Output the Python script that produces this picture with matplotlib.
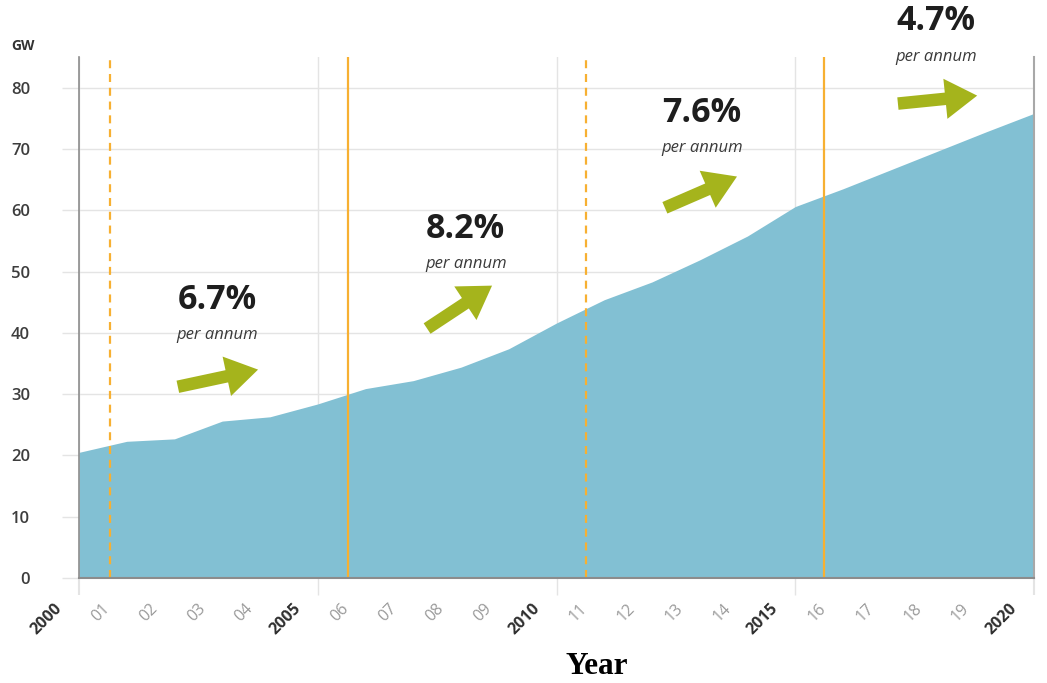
import matplotlib
matplotlib.use("Agg")
import matplotlib.pyplot as plt
import matplotlib.transforms as mtransforms
from matplotlib.ticker import FixedLocator, FuncFormatter

# Installed generating capacity, GW
years = list(range(2000, 2021))
capacity = [20.5, 22.3, 22.7, 25.6, 26.3, 28.4, 30.9, 32.2, 34.4, 37.4, 41.6,
            45.4, 48.3, 51.9, 55.8, 60.6, 63.5, 66.6, 69.7, 72.8, 75.8]

# Period boundaries (dashed = plan start, solid = plan end) and growth rates
boundary_dashed = [2000.65, 2010.62]
boundary_solid = [2005.63, 2015.6]
growth_labels = ["6.7%", "8.2%", "7.6%", "4.7%"]
growth_text_x = [2002.89, 2008.10, 2013.05, 2017.95]
growth_text_y = [45.4, 57.0, 75.9, 90.8]
arrow_tails = [(2002.07, 31.2), (2007.29, 40.7), (2012.27, 60.4), (2017.15, 77.4)]
arrow_tips = [(2003.75, 34.0), (2008.65, 47.7), (2013.78, 65.5), (2018.81, 78.7)]

y_ticks = list(range(0, 81, 10))
major_years = [2000, 2005, 2010, 2015, 2020]
minor_years = [y for y in years if y not in major_years]

AREA = "#82C0D3"
ORANGE = "#F7B032"
GREEN = "#A5B41C"
GRID = "#E4E4E4"
DARK = "#2E2E2E"

plt.rcParams["font.family"] = ["Open Sans", "DejaVu Sans"]

W, H = 1047, 683
fig = plt.figure(figsize=(W / 100, H / 100), dpi=100)
ax = fig.add_axes([79 / W, 1 - 578 / H, (1034 - 79) / W, (578 - 57) / H])
ax.set_xlim(2000, 2020)
ax.set_ylim(0, 85)
ax.set_axisbelow(True)

# Area
ax.fill_between(years, capacity, 0, color=AREA, lw=0, zorder=2)

# Period boundaries
for x in boundary_dashed:
    ax.axvline(x, color=ORANGE, lw=1.6, ls=(0, (3.6, 2.6)), zorder=3)
for x in boundary_solid:
    ax.axvline(x, color=ORANGE, lw=1.6, zorder=3)

# Growth annotations
for lab, tx, ty, tail, tip in zip(growth_labels, growth_text_x, growth_text_y,
                                  arrow_tails, arrow_tips):
    ax.text(tx, ty, lab, ha="center", va="center", fontsize=24.5,
            fontweight="bold", color="#1E1E1E", clip_on=False)
    ax.text(tx, ty - 5.8, "per annum", ha="center", va="center", fontsize=12,
            style="italic", color="#3A3A3A", clip_on=False)
    ax.annotate("", xy=tip, xytext=tail, annotation_clip=False,
                arrowprops=dict(arrowstyle="simple,head_length=2.3,head_width=2.9,tail_width=0.9",
                                mutation_scale=10, color=GREEN, lw=0,
                                shrinkA=0, shrinkB=0), zorder=4)

# Spines
ax.spines["top"].set_visible(False)
ax.spines["left"].set_color("#8C8C8C")
ax.spines["left"].set_linewidth(1.2)
ax.spines["right"].set_color("#A8A8A8")
ax.spines["right"].set_linewidth(1.5)
ax.spines["bottom"].set_color("#8C8C8C")
ax.spines["bottom"].set_linewidth(1.5)
for s in ax.spines.values():
    s.set_zorder(5)

# Y axis
ax.set_yticks(y_ticks)
ax.yaxis.grid(True, color=GRID, lw=1)
ax.tick_params(axis="y", length=12.2, width=1, color=GRID, pad=23,
               labelsize=12, labelcolor="#3D3D3D")
for lab in ax.get_yticklabels():
    lab.set_fontweight("semibold")
ax.get_yticklines()[0].set_color("#8C8C8C")

# X axis
ax.xaxis.set_major_locator(FixedLocator(major_years))
ax.xaxis.set_minor_locator(FixedLocator(minor_years))
ax.xaxis.set_major_formatter(FuncFormatter(lambda v, p: f"{int(round(v))}"))
ax.xaxis.set_minor_formatter(FuncFormatter(lambda v, p: f"{int(round(v)) % 100:02d}"))
ax.xaxis.grid(True, which="major", color=GRID, lw=1)
ax.tick_params(axis="x", which="major", length=12.2, width=1, color=GRID, pad=4,
               labelsize=11.5, labelcolor=DARK, labelrotation=45)
ax.tick_params(axis="x", which="minor", length=0, pad=16.5,
               labelsize=11.5, labelcolor="#9A9A9A", labelrotation=45)
majors = ax.xaxis.get_major_ticks()
for t in (majors[0], majors[-1]):
    t.tick1line.set_color("#8C8C8C")
    t.tick1line.set_markeredgewidth(1.5)

shift = mtransforms.ScaledTranslation(-0.25, 0, fig.dpi_scale_trans)
for lab in ax.get_xticklabels(which="major"):
    lab.set_fontweight("bold")
for lab in ax.get_xticklabels(which="both"):
    lab.set_ha("right")
    lab.set_va("top")
    lab.set_rotation_mode("anchor")
    lab.set_transform(lab.get_transform() + shift)

fig.text(23 / W, 1 - 46 / H, "GW", ha="center", va="center", fontsize=10,
         fontweight="bold", color="#333333")
fig.text(597 / W, 1 - 667 / H, "Year", ha="center", va="center", fontsize=22.5,
         fontweight="bold", family="Liberation Serif", color="#000000")

fig.savefig("out.png", dpi=100)
